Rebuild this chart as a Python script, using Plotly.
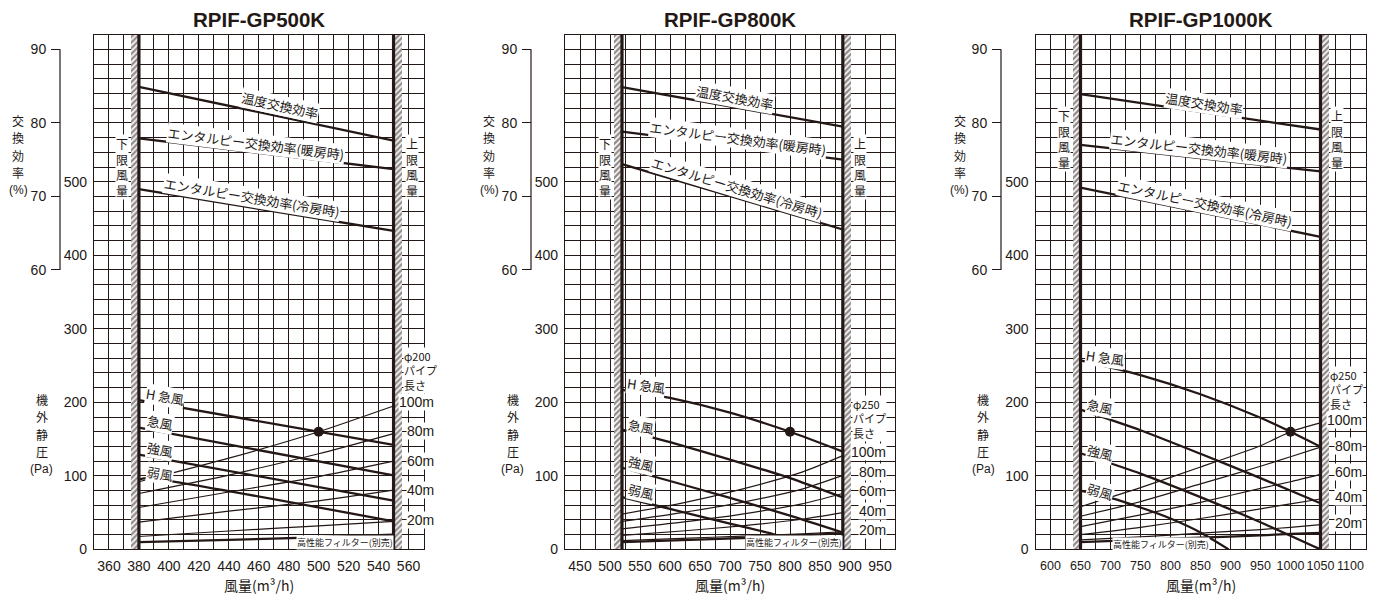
import plotly.graph_objects as go

# page is rendered with the browser's default 8px body margin; the figure is
# sized so that it exactly fills the rest of the 1378x608 window
OFF = 8
W, H = 1378 - OFF, 608 - OFF
INK = "#231815"
LAT = "Liberation Sans, Arial, Helvetica, sans-serif"
JP = "Noto Sans CJK JP, Liberation Sans, sans-serif"

# ---------------- data ----------------
titles = ["RPIF-GP500K", "RPIF-GP800K", "RPIF-GP1000K"]
x_ranges = [[350, 570], [425, 975], [575, 1125]]
x_label_start = [360, 450, 600]
x_label_step = [20, 50, 50]
x_grid_step = [10, 25, 25]
y_range = [0, 700]
y_tickvals = [0, 100, 200, 300, 400, 500]
eff_tickvals = [60, 70, 80, 90]
eff_range = [22, 92]
low_limit = [380, 520, 650]
high_limit = [550, 888, 1050]
rated_x = [500, 800, 1000]
rated_y = [160, 160, 160]
pipe_dia = ["φ200", "φ250", "φ250"]
pipe_len_labels = ["100m", "80m", "60m", "40m", "20m"]

# exchange efficiency (%)
eff_x = [[380, 550], [520, 888], [650, 1050]]
temp_eff = [[84.9, 77.6], [84.85, 79.5], [83.9, 79.1]]
heat_eff = [[77.9, 73.7], [78.8, 75.0], [77.0, 73.4]]
cool_eff = [[71.0, 65.3], [74.4, 65.5], [71.2, 64.5]]

# fan curves (Pa)
fanH_x = [[380, 550], [520, 600, 700, 800, 888], [650, 750, 850, 950, 1000, 1050]]
fanH_y = [[203, 142], [217, 206, 186, 160, 133], [257, 237, 211, 179, 160, 139.6]]
fanQ_x = [[380, 550], [520, 600, 700, 800, 888], [650, 750, 850, 950, 1050]]
fanQ_y = [[165.6, 100.6], [163, 146, 122, 97, 70.7], [190, 162, 130, 97, 62.7]]
fanS_x = [[380, 550], [520, 600, 700, 800, 888], [650, 750, 850, 950, 1050]]
fanS_y = [[128.8, 66.3], [111, 93, 70, 46, 23], [130.7, 103, 71, 37, 0]]
fanW_x = [[380, 386, 550], [520, 600, 700, 775, 838], [650, 700, 750, 800, 850, 897]]
fanW_y = [[95.3, 97, 38.1], [71, 55, 35, 20, 0], [80, 70, 57, 42, 23, 0]]

# duct resistance curves (Pa)
pipe_x = [[380, 440, 500, 550], [520, 620, 720, 820, 888], [650, 750, 850, 950, 1000, 1050]]
pipe100 = [[92, 124, 160, 195], [48, 63, 82, 105, 127.5], [58, 84, 112, 141, 160, 172]]
pipe80 = [[76, 101, 130, 157.5], [38, 50, 64, 82, 100.6], [45, 65, 89, 113, 126, 139]]
pipe60 = [[57, 78, 99, 120], [28, 37, 48, 62, 76], [31, 47, 64, 83, 92, 102]]
pipe40 = [[37, 52, 66, 80.5], [19, 25, 32, 41, 50], [20, 30, 42, 55, 62, 68.5]]
pipe20 = [[17.5, 25, 32, 38], [12, 15, 18, 21, 24], [13, 17, 22, 27, 30, 33.6]]
filt = [[10, 13, 16.5, 20], [10, 12.5, 15.5, 19, 22], [10, 13, 16, 19, 21, 22.4]]

# ---------------- layout geometry (window pixels) ----------------
GL = [94, 565, 1035.5]
GR = [423.5, 895, 1365.5]
GT, GB = 35, 556.7
BRACKET = [60, 531, 1001]
HATCH_W = [5.5, 13, 13]
XTICK_SIZE = [14, 14, 12.5]

def fx(px):
    return (px - OFF) / W

def fy(py):
    return 1 - (py - OFF) / H

fig = go.Figure()
ann = []
shapes = []

def text(t, x, y, size=13, xref="paper", yref="paper", angle=0, bg=None,
         xanchor="center", family=JP, align="center"):
    ann.append(dict(text=t, x=x, y=y, xref=xref, yref=yref, showarrow=False,
                    textangle=angle, align=align,
                    font=dict(family=family, size=size, color=INK),
                    bgcolor=bg if bg else "rgba(0,0,0,0)", borderpad=0,
                    xanchor=xanchor, yanchor="middle"))

def stack(parts, xpx, ycenter, step, size):
    n = len(parts)
    for j, p in enumerate(parts):
        ypx = ycenter + (j - (n - 1) / 2) * step
        fam = LAT if p.startswith("(") else JP
        text(p, fx(xpx), fy(ypx), size=size, family=fam)

eff_label_pos = [
    [(474.2, 82.4, 12.2), (458.2, 77.2, 7.1), (455.5, 69.9, 9.4)],
    [(708.3, 83.5, 10.3), (713.8, 77.9, 7.4), (711.2, 71.2, 16.8)],
    [(855.8, 82.6, 8.6), (847.5, 76.5, 6.4), (857.5, 69.0, 11.8)],
]
eff_label_txt = ["温度交換効率", "エンタルピー交換効率(暖房時)", "エンタルピー交換効率(冷房時)"]
fan_label_pos = [
    [(397.4, 207.6, 10), (394.1, 172.7, 11), (394.1, 136.5, 10.5), (394.1, 102.9, 9.5)],
    [(559.7, 222.6, 8), (551.3, 167.7, 10), (551.3, 116.3, 13), (551.3, 78.4, 13)],
    [(690.8, 261.6, 8), (682.5, 194.6, 12), (682.5, 131.1, 14), (682.5, 78.4, 16)],
]
fan_label_txt = ["H 急風", "急風", "強風", "弱風"]
pipe_head_cy = [375.5, 424, 395]
pipe_head_x = [403, 852, 1329]
pipe_len_y = [[407, 436.7, 466.7, 496.7, 526.7], [458.3, 478.3, 497.7, 517.3, 537.3],
              [426, 451.7, 478.3, 504, 530]]
pipe_len_xr = [435, 886.7, 1363.3]
filter_lbl = [(344.5, 550), (794, 550), (1161, 551.7)]
limit_lbl_x = [(121.7, 411.7), (605, 860), (1064, 1336.7)]
limit_lbl_cy = [169.4, 169.4, 141.2]

layout_axes = {}
for k in range(3):
    i = k + 1
    xa = "x" if i == 1 else f"x{i}"
    ya = "y" if i == 1 else f"y{i}"
    ye = f"y{i + 3}"
    xdom = [fx(GL[k]), fx(GR[k])]
    ydom = [fy(GB), fy(GT)]
    layout_axes[f"xaxis{'' if i == 1 else i}"] = dict(
        domain=xdom, range=x_ranges[k], anchor=ya,
        tickmode="linear", tick0=x_label_start[k], dtick=x_label_step[k],
        tickangle=0,
        showgrid=True, gridcolor=INK, gridwidth=1,
        minor=dict(tickmode="linear", tick0=x_ranges[k][0], dtick=x_grid_step[k],
                   showgrid=True, gridcolor=INK, gridwidth=1),
        showline=True, mirror=True, linecolor=INK, linewidth=1.3,
        zeroline=False, ticks="", ticklabelstandoff=4,
        tickfont=dict(family=LAT, size=XTICK_SIZE[k], color=INK), fixedrange=True)
    layout_axes[f"yaxis{'' if i == 1 else i}"] = dict(
        domain=ydom, range=y_range, anchor=xa,
        tickmode="array", tickvals=y_tickvals,
        showgrid=True, gridcolor=INK, gridwidth=1,
        minor=dict(tickmode="linear", tick0=0, dtick=20,
                   showgrid=True, gridcolor=INK, gridwidth=1),
        showline=True, mirror=True, linecolor=INK, linewidth=1.3,
        zeroline=False, ticks="", ticklabelstandoff=3,
        tickfont=dict(family=LAT, size=14, color=INK), fixedrange=True)
    layout_axes[f"yaxis{i + 3}"] = dict(
        overlaying=ya, anchor="free", position=fx(BRACKET[k]), side="left",
        range=eff_range, tickmode="array", tickvals=eff_tickvals,
        showgrid=False, showline=False, zeroline=False,
        ticks="outside", ticklen=9, tickwidth=1.2, tickcolor=INK,
        ticklabelstandoff=2,
        tickfont=dict(family=LAT, size=14, color=INK), fixedrange=True)

    # efficiency bracket line
    shapes.append(dict(type="line", xref="paper", yref=ye,
                       x0=fx(BRACKET[k]), x1=fx(BRACKET[k]),
                       y0=eff_tickvals[0], y1=eff_tickvals[-1],
                       line=dict(color=INK, width=1.2)))

    # hatched bands outside the limits
    hw = HATCH_W[k]
    for cx in (low_limit[k] - hw / 2, high_limit[k] + hw / 2):
        fig.add_trace(go.Bar(
            x=[cx], y=[y_range[1]], width=[hw], base=0,
            marker=dict(color="white", line=dict(width=0),
                        pattern=dict(shape="/", fgcolor=INK, bgcolor="white",
                                     size=4, solidity=0.6)),
            xaxis=xa, yaxis=ya, hoverinfo="skip"))
    # limit lines
    for lx in (low_limit[k], high_limit[k]):
        fig.add_trace(go.Scatter(x=[lx, lx], y=y_range, mode="lines",
                                 line=dict(color=INK, width=3.2),
                                 xaxis=xa, yaxis=ya, hoverinfo="skip"))

    # efficiency lines
    for ser in (temp_eff, heat_eff, cool_eff):
        fig.add_trace(go.Scatter(x=eff_x[k], y=ser[k], mode="lines",
                                 line=dict(color=INK, width=2.3),
                                 xaxis=xa, yaxis=ye, hoverinfo="skip"))
    # pipe resistance curves
    for ser, wdt in ((pipe100, 1.2), (pipe80, 1.2), (pipe60, 1.2), (pipe40, 1.2),
                     (pipe20, 1.2), (filt, 2.3)):
        fig.add_trace(go.Scatter(x=pipe_x[k], y=ser[k], mode="lines",
                                 line=dict(color=INK, width=wdt, shape="spline", smoothing=0.6),
                                 xaxis=xa, yaxis=ya, hoverinfo="skip"))
    # fan curves
    for xs, ys in ((fanH_x, fanH_y), (fanQ_x, fanQ_y), (fanS_x, fanS_y), (fanW_x, fanW_y)):
        fig.add_trace(go.Scatter(x=xs[k], y=ys[k], mode="lines",
                                 line=dict(color=INK, width=2.3, shape="spline", smoothing=0.6),
                                 xaxis=xa, yaxis=ya, hoverinfo="skip"))
    # rated point
    fig.add_trace(go.Scatter(x=[rated_x[k]], y=[rated_y[k]], mode="markers",
                             marker=dict(color=INK, size=10),
                             xaxis=xa, yaxis=ya, hoverinfo="skip"))

    # ---- texts ----
    text(f"<b>{titles[k]}</b>", fx((GL[k] + GR[k]) / 2), fy(20), size=20.5, family=LAT)
    text("風量(m³/h)", fx((GL[k] + GR[k]) / 2), fy(593), size=14)
    stack(["交", "換", "効", "率", "(%)"], GL[k] - 76, 157, 17.5, 12)
    stack(["機", "外", "静", "圧", "(Pa)"], GL[k] - 52.5, 440, 17.5, 12)
    text("下<br>限<br>風<br>量", fx(limit_lbl_x[k][0]), fy(limit_lbl_cy[k]), size=12, bg="white")
    text("上<br>限<br>風<br>量", fx(limit_lbl_x[k][1]), fy(limit_lbl_cy[k]), size=12, bg="white")

    for t, (lx, ly, ang) in zip(eff_label_txt, eff_label_pos[k]):
        text(t, lx, ly, size=13, xref=xa, yref=ye, angle=ang, bg="white")
    for t, (lx, ly, ang) in zip(fan_label_txt, fan_label_pos[k]):
        text(t, lx, ly, size=13, xref=xa, yref=ya, angle=ang, bg="white")

    text(f"{pipe_dia[k]}<br>パイプ<br>長さ", fx(pipe_head_x[k]), fy(pipe_head_cy[k]),
         size=11, bg="white", xanchor="left", align="left")
    for t, ypx in zip(pipe_len_labels, pipe_len_y[k]):
        text(t, fx(pipe_len_xr[k]), fy(ypx), size=14, bg="white", xanchor="right",
             family=LAT)
    text("高性能フィルター(別売)", fx(filter_lbl[k][0]), fy(filter_lbl[k][1]), size=9,
         bg="white")

fig.update_layout(
    width=W, height=H, margin=dict(l=0, r=0, t=0, b=0, pad=0),
    paper_bgcolor="white", plot_bgcolor="white",
    showlegend=False, barmode="overlay", bargap=0,
    annotations=ann, shapes=shapes, **layout_axes)

fig.write_html("out.html")
